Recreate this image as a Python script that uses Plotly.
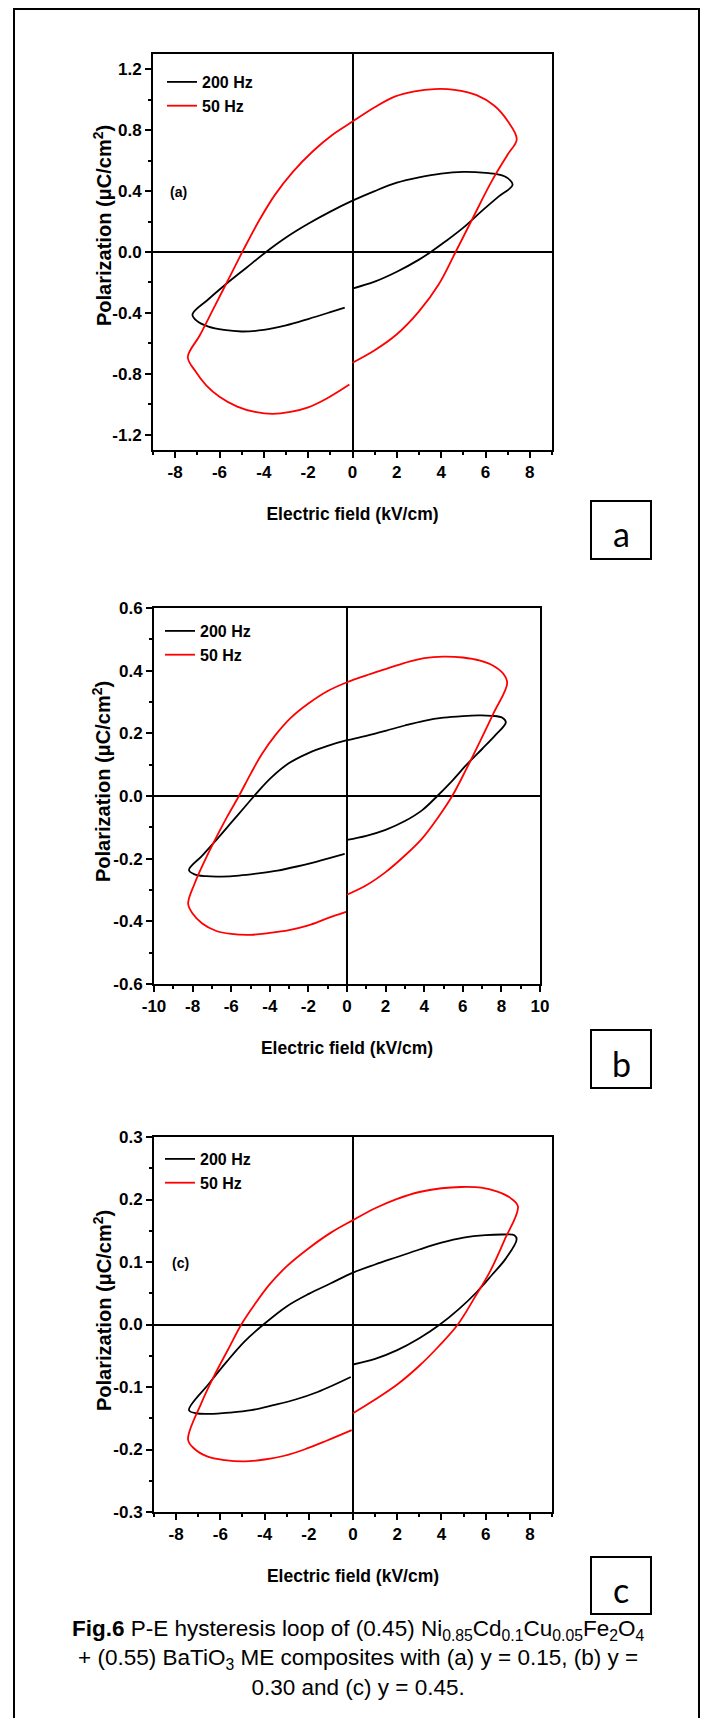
import numpy as np
import plotly.graph_objects as go

W, H = 706, 1718

# ---------------- data ----------------
# Panel (a)  y = 0.15
a_200_E = [0, 1.0, 2.0, 3.0, 3.53, 4.2, 5.0, 5.8, 6.6, 7.22, 7.0, 6.6, 6.0, 5.0, 4.0, 3.0, 2.0, 1.0, 0,
           -1.0, -2.0, -3.0, -3.9, -4.8, -5.7, -6.5, -7.22, -7.0, -6.5, -5.8, -5.0, -4.0, -3.0, -2.0, -1.0, -0.35]
a_200_P = [-0.24, -0.195, -0.13, -0.05, 0.0, 0.07, 0.16, 0.265, 0.365, 0.44, 0.485, 0.508, 0.52, 0.526, 0.515,
           0.49, 0.455, 0.40, 0.337, 0.265, 0.185, 0.095, 0.0, -0.105, -0.21, -0.31, -0.41, -0.455, -0.49,
           -0.512, -0.522, -0.512, -0.482, -0.44, -0.395, -0.365]
a_50_E = [0, 1.0, 2.0, 3.0, 3.9, 4.65, 5.4, 6.3, 7.0, 7.41, 7.0, 6.4, 5.6, 4.6, 3.7, 2.8, 1.9, 1.0, 0, -0.9,
          -1.8, -2.7, -3.5, -4.2, -4.9, -5.6, -6.3, -6.9, -7.43, -7.1, -6.6, -6.0, -5.2, -4.4, -3.6, -2.8,
          -2.0, -1.2, -0.14]
a_50_P = [-0.727, -0.645, -0.54, -0.39, -0.21, 0.0, 0.215, 0.47, 0.64, 0.74, 0.86, 0.96, 1.03, 1.065, 1.07,
          1.055, 1.02, 0.95, 0.856, 0.77, 0.66, 0.525, 0.375, 0.21, 0.02, -0.18, -0.38, -0.55, -0.69, -0.78,
          -0.875, -0.95, -1.015, -1.05, -1.063, -1.05, -1.02, -0.965, -0.87]

# Panel (b)  y = 0.30
b_200_E = [0, 1.0, 2.0, 3.0, 3.9, 4.68, 5.4, 6.2, 7.0, 7.7, 8.23, 8.05, 7.5, 6.8, 6.0, 5.0, 4.0, 3.0, 2.0,
           1.0, 0, -1.0, -2.0, -3.0, -3.9, -4.6, -5.3, -6.0, -6.7, -7.5, -8.19, -7.9, -7.3, -6.5, -5.6, -4.6,
           -3.6, -2.6, -1.6, -0.12]
b_200_P = [-0.14, -0.127, -0.108, -0.08, -0.045, 0.0, 0.045, 0.1, 0.15, 0.195, 0.235, 0.25, 0.256, 0.257,
           0.255, 0.25, 0.24, 0.225, 0.208, 0.192, 0.178, 0.16, 0.137, 0.105, 0.06, 0.015, -0.035, -0.085,
           -0.135, -0.19, -0.236, -0.25, -0.256, -0.257, -0.254, -0.247, -0.238, -0.225, -0.21, -0.185]
b_50_E = [0, 1.0, 2.0, 3.0, 3.9, 4.7, 5.45, 6.2, 6.9, 7.6, 8.3, 8.1, 7.6, 6.9, 6.0, 5.0, 4.0, 3.0, 2.0, 1.0,
          0, -1.0, -2.0, -2.9, -3.7, -4.4, -5.0, -5.6, -6.2, -6.8, -7.4, -7.9, -8.23, -8.0, -7.5, -6.8, -6.0,
          -5.0, -4.0, -3.0, -2.0, -1.0, -0.05]
b_50_P = [-0.315, -0.285, -0.243, -0.19, -0.135, -0.07, 0.0, 0.088, 0.175, 0.265, 0.36, 0.39, 0.415, 0.432,
          0.442, 0.445, 0.44, 0.425, 0.405, 0.385, 0.363, 0.335, 0.295, 0.25, 0.195, 0.135, 0.07, 0.0,
          -0.065, -0.135, -0.21, -0.28, -0.344, -0.375, -0.407, -0.43, -0.44, -0.443, -0.437, -0.428,
          -0.413, -0.39, -0.37]

# Panel (c)  y = 0.45
c_200_E = [0, 1.0, 2.0, 3.0, 3.93, 4.8, 5.6, 6.3, 6.9, 7.4, 7.3, 6.8, 6.0, 5.0, 4.0, 3.0, 2.0, 1.0, 0, -1.0,
           -2.0, -3.0, -4.05, -4.9, -5.7, -6.5, -7.42, -7.1, -6.5, -5.6, -4.6, -3.6, -2.6, -1.6, -0.1]
c_200_P = [-0.064, -0.055, -0.041, -0.022, 0.0, 0.025, 0.052, 0.08, 0.105, 0.136, 0.143, 0.144, 0.143, 0.139,
           0.131, 0.12, 0.108, 0.096, 0.083, 0.066, 0.049, 0.029, 0.0, -0.027, -0.059, -0.094, -0.137,
           -0.142, -0.143, -0.141, -0.137, -0.129, -0.12, -0.108, -0.084]
c_50_E = [0, 1.0, 2.0, 3.0, 3.9, 4.74, 5.5, 6.2, 6.85, 7.46, 7.1, 6.5, 5.8, 4.9, 4.0, 3.0, 2.0, 1.0, 0, -1.0,
          -2.0, -3.0, -3.8, -4.45, -5.05, -5.65, -6.25, -6.85, -7.46, -7.2, -6.6, -5.8, -4.9, -4.0, -3.1,
          -2.2, -1.2, -0.06]
c_50_P = [-0.142, -0.12, -0.096, -0.066, -0.034, 0.0, 0.043, 0.085, 0.135, 0.189, 0.203, 0.213, 0.219, 0.22,
          0.218, 0.212, 0.201, 0.186, 0.167, 0.147, 0.122, 0.093, 0.063, 0.032, 0.0, -0.04, -0.08, -0.125,
          -0.184, -0.198, -0.211, -0.217, -0.219, -0.216, -0.21, -0.2, -0.186, -0.169]

series_names = ["200 Hz", "50 Hz"]

# tick labels
x_ticks_ac = [-8, -6, -4, -2, 0, 2, 4, 6, 8]
x_ticks_b = [-10, -8, -6, -4, -2, 0, 2, 4, 6, 8, 10]
y_ticks_a = [-1.2, -0.8, -0.4, 0.0, 0.4, 0.8, 1.2]
y_ticks_b = [-0.6, -0.4, -0.2, 0.0, 0.2, 0.4, 0.6]
y_ticks_c = [-0.3, -0.2, -0.1, 0.0, 0.1, 0.2, 0.3]
x_labels_ac = ["-8", "-6", "-4", "-2", "0", "2", "4", "6", "8"]
x_labels_b = ["-10", "-8", "-6", "-4", "-2", "0", "2", "4", "6", "8", "10"]
y_labels_a = ["-1.2", "-0.8", "-0.4", "0.0", "0.4", "0.8", "1.2"]
y_labels_b = ["-0.6", "-0.4", "-0.2", "0.0", "0.2", "0.4", "0.6"]
y_labels_c = ["-0.3", "-0.2", "-0.1", "0.0", "0.1", "0.2", "0.3"]

x_title = "Electric field (kV/cm)"
y_title = "Polarization (\u03bcC/cm<sup>2</sup>)"
caption = ("<b>Fig.6</b> P-E hysteresis loop of (0.45) Ni<sub>0.85</sub>Cd<sub>0.1</sub>Cu<sub>0.05</sub>"
           "Fe<sub>2</sub>O<sub>4</sub><br>+ (0.55) BaTiO<sub>3</sub> ME composites with (a) y = 0.15, (b) y ="
           "<br>0.30 and (c) y = 0.45.")

# ---------------- styling ----------------
ARIAL = "Liberation Sans, Arial, sans-serif"
BLACK = "#000000"
RED = "#ff0000"


def px2x(px):
    return px / W


def px2y(py):
    return 1 - py / H


def midpoints(vals):
    v = np.asarray(vals, dtype=float)
    return list((v[:-1] + v[1:]) / 2)


fig = go.Figure()

panels = [
    dict(ax="", E=(a_200_E, a_50_E), P=(a_200_P, a_50_P), legend="legend"),
    dict(ax="2", E=(b_200_E, b_50_E), P=(b_200_P, b_50_P), legend="legend2"),
    dict(ax="3", E=(c_200_E, c_50_E), P=(c_200_P, c_50_P), legend="legend3"),
]
for p in panels:
    for name, E, P, col in zip(series_names, p["E"], p["P"], [BLACK, RED]):
        fig.add_trace(go.Scatter(
            x=E, y=P, mode="lines", name=name,
            line=dict(color=col, width=1.8, shape="spline", smoothing=1.0),
            xaxis="x" + p["ax"], yaxis="y" + p["ax"], legend=p["legend"],
        ))

# panel pixel boxes (left, right, top, bottom)
boxes = [(153, 552, 54, 450), (154, 540, 608, 984), (154, 552, 1137, 1512)]
xranges = [[-9, 9], [-10, 10], [-9, 9]]
yranges = [[-1.3, 1.3], [-0.6, 0.6], [-0.3, 0.3]]
xt = [(x_ticks_ac, x_labels_ac), (x_ticks_b, x_labels_b), (x_ticks_ac, x_labels_ac)]
yt = [(y_ticks_a, y_labels_a), (y_ticks_b, y_labels_b), (y_ticks_c, y_labels_c)]
ytitle_pos = [(102, 226), (102, 782), (102, 1311)]

tickfont = dict(family=ARIAL, size=17, color=BLACK, weight="bold")
common = dict(showline=True, linecolor=BLACK, linewidth=2, mirror=True, ticks="outside", ticklen=6,
              tickwidth=1.5, tickcolor=BLACK, showgrid=False, zeroline=True, zerolinecolor=BLACK,
              zerolinewidth=1.5, automargin=False, tickfont=tickfont, tickmode="array")

layout_axes = {}
annotations = []
for i, (bx, xr, yr, (xv, xl), (yv, yl)) in enumerate(zip(boxes, xranges, yranges, xt, yt)):
    s = "" if i == 0 else str(i + 1)
    l, r, t, b = bx
    xminor = midpoints(xv) + ([xv[0] - 1, xv[-1] + 1] if i != 1 else [])
    yminor = midpoints(yv) + ([yv[-1] + (yv[1] - yv[0]) / 2, yv[0] - (yv[1] - yv[0]) / 2] if i == 0 else [])
    layout_axes["xaxis" + s] = dict(
        common, domain=[px2x(l), px2x(r)], anchor="y" + s, range=xr, tickvals=xv, ticktext=xl,
        ticklabelstandoff=0,
        minor=dict(tickmode="array", tickvals=xminor, ticks="outside", ticklen=3, tickwidth=1.5,
                   tickcolor=BLACK, showgrid=False),
        title=dict(text=x_title, font=dict(family=ARIAL, size=17.5, color=BLACK, weight="bold"), standoff=26),
    )
    layout_axes["yaxis" + s] = dict(
        common, domain=[px2y(b), px2y(t)], anchor="x" + s, range=yr, tickvals=yv, ticktext=yl,
        minor=dict(tickmode="array", tickvals=yminor, ticks="outside", ticklen=3, tickwidth=1.5,
                   tickcolor=BLACK, showgrid=False),
    )
    tx, ty = ytitle_pos[i]
    annotations.append(dict(text=y_title, xref="paper", yref="paper", x=px2x(tx), y=px2y(ty), textangle=-90,
                            showarrow=False, xanchor="center", yanchor="middle",
                            font=dict(family=ARIAL, size=20, color=BLACK, weight="bold")))

legend_style = dict(font=dict(family=ARIAL, size=16, color=BLACK, weight="bold"), bgcolor="rgba(0,0,0,0)",
                    borderwidth=0, xanchor="left", yanchor="top", tracegroupgap=0, itemwidth=30)

fig.update_layout(
    width=W, height=H, margin=dict(l=0, r=0, t=0, b=0, pad=0),
    paper_bgcolor="white", plot_bgcolor="white", showlegend=True,
    legend=dict(legend_style, x=px2x(162), y=px2y(65)),
    legend2=dict(legend_style, x=px2x(160), y=px2y(614)),
    legend3=dict(legend_style, x=px2x(160), y=px2y(1142)),
    **layout_axes,
)

shapes = [
    dict(type="rect", xref="paper", yref="paper", x0=px2x(14), x1=px2x(699), y0=px2y(1740), y1=px2y(9),
         line=dict(color=BLACK, width=2)),
]
letter_boxes = [("a", 501, 559), ("b", 1030, 1088), ("c", 1557, 1614)]
for letter, t, b in letter_boxes:
    shapes.append(dict(type="rect", xref="paper", yref="paper", x0=px2x(591), x1=px2x(651), y0=px2y(b),
                       y1=px2y(t), line=dict(color=BLACK, width=2)))
    annotations.append(dict(text=letter, xref="paper", yref="paper", x=px2x(621), y=px2y((t + b) / 2 + 4),
                            xanchor="center", yanchor="middle", showarrow=False,
                            font=dict(family="Lato, Open Sans, sans-serif", size=34, color=BLACK)))

annotations.append(dict(text="(a)", xref="paper", yref="paper", x=px2x(178), y=px2y(192), showarrow=False,
                        xanchor="center", yanchor="middle",
                        font=dict(family=ARIAL, size=14, color=BLACK, weight="bold")))
annotations.append(dict(text="(c)", xref="paper", yref="paper", x=px2x(181), y=px2y(1263), showarrow=False,
                        xanchor="center", yanchor="middle",
                        font=dict(family=ARIAL, size=14, color=BLACK, weight="bold")))
annotations.append(dict(text=caption, xref="paper", yref="paper", x=px2x(358), y=px2y(1658), showarrow=False,
                        xanchor="center", yanchor="middle", align="center",
                        font=dict(family=ARIAL, size=22.5, color=BLACK)))

fig.update_layout(shapes=shapes, annotations=annotations)
fig.write_html("out.html")
